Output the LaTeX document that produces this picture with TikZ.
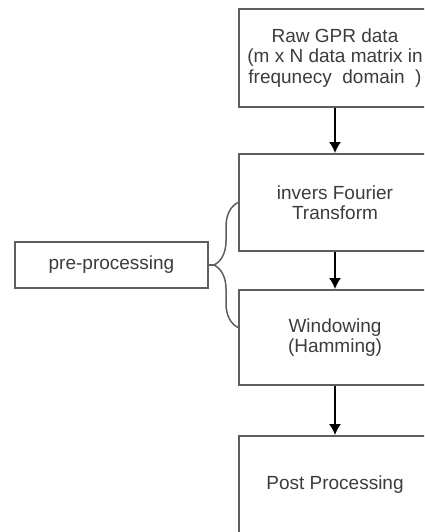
\documentclass[tikz,border=0pt]{standalone}
\usepackage{fontspec}
\setmainfont{Liberation Sans}
\usetikzlibrary{arrows.meta, decorations.pathreplacing, calc}

\begin{document}
\begin{tikzpicture}[x=1pt, y=-1pt, font=\fontsize{19}{20.5}\selectfont, >={Latex[length=11pt,width=12pt]}]
  \definecolor{edge}{HTML}{5E5E5E}
  \definecolor{ink}{HTML}{3C3C3C}
  \tikzset{stage/.style={draw=edge, line width=2pt, rectangle, text=ink, align=center, minimum width=192pt}}

  % page frame (boxes run past the right edge)
  \useasboundingbox (0,0) rectangle (424,532);
  \clip (0,0) rectangle (424,532);

  % Define positions
  \node (raw) [stage, minimum height=98pt] at (335, 58)
    {Raw GPR data\\(m x N data matrix in\\frequnecy\ \ domain\ \ )};

  \node (ift) [stage, minimum height=97pt] at (335, 202.5)
    {invers Fourier\\Transform};

  \node (win) [stage, minimum height=95pt] at (335, 337.5)
    {Windowing\\(Hamming)};

  \node (post) [stage, minimum height=98pt] at (335, 485)
    {Post Processing};

  \node (pre) [stage, minimum width=193pt, minimum height=46pt] at (111.5, 265)
    {pre-processing};

  % Arrows
  \draw[->, line width=1.4pt] (raw) -- (ift);
  \draw[->, line width=1.4pt] (ift) -- (win);
  \draw[->, line width=1.4pt] (win) -- (post);

  % brace grouping the pre-processing steps
  \coordinate (braceTop) at (ift.west);
  \coordinate (braceBot) at ($(win.west)+(0,-10)$);
  \coordinate (tip) at ($(braceTop)!0.5!(braceBot)+(-24,0)$);
  \draw[edge, line width=1.5pt, decorate, decoration={brace, amplitude=24pt}] (braceBot) -- (braceTop);
  \draw[edge, line width=1.5pt] (pre.east) -- (tip);
\end{tikzpicture}
\end{document}
